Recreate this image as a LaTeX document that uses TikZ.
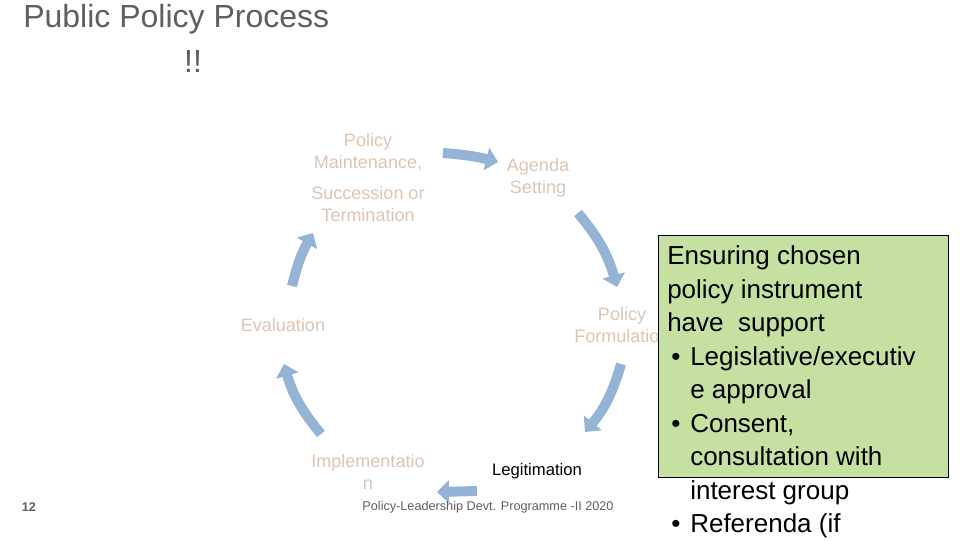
\documentclass[tikz,border=0pt]{standalone}
\usepackage{fontspec}
\setmainfont{Liberation Sans}
\usetikzlibrary{arrows.meta}
\definecolor{arr}{RGB}{148,179,213}
\definecolor{beige}{RGB}{222,196,178}
\definecolor{boxg}{RGB}{197,224,160}
\definecolor{titleg}{RGB}{95,95,95}
\begin{document}
\begin{tikzpicture}[x=0.75pt,y=-0.75pt,
  blk/.style={draw=arr,line width=7.5pt,-{Triangle[width=17pt,length=9pt]}},
  lab/.style={text=beige,font=\fontsize{13.5}{16}\selectfont,align=center,inner sep=0pt},
  bt/.style={font=\fontsize{19.5}{25}\selectfont,anchor=base west,inner sep=0pt}]
\useasboundingbox (0,0) rectangle (960,540);
\node[anchor=base west,text=titleg,font=\fontsize{24}{28}\selectfont,inner sep=0pt] (t1) at (23,27) {Public Policy Process};
\node[anchor=base,text=titleg,font=\fontsize{24}{28}\selectfont,inner sep=0pt] (t2) at (193,72) {!!};
% labels
\node[lab] (pm1) at (368,152) {Policy\\Maintenance,};
\node[lab] (pm2) at (368,204) {Succession or\\Termination};
\node[lab] (ag) at (538,178) {Agenda\\Setting};
\node[lab] (ev) at (283,325) {Evaluation};
\node[lab] (pf) at (622,325) {Policy\\Formulation};
\node[lab] (im) at (368,472) {Implementatio\\n};
\node[inner sep=0pt,font=\fontsize{12.5}{15}\selectfont] (lg) at (537,471) {Legitimation};
% arrows
\coordinate (a1s) at (443,153); \coordinate (a1e) at (498,162);
\coordinate (a2s) at (578,213); \coordinate (a2e) at (617,287);
\coordinate (a3s) at (621,364); \coordinate (a3e) at (585,432);
\coordinate (a4s) at (477,491); \coordinate (a4e) at (437,492);
\coordinate (a5s) at (321,434); \coordinate (a5e) at (284,364);
\coordinate (a6s) at (292,286); \coordinate (a6e) at (313,233);
\draw[blk] (a1s) to[bend left=5] (a1e);
\draw[blk] (a2s) to[bend left=12] (a2e);
\draw[blk] (a3s) to[bend left=12] (a3e);
\draw[blk] (a4s) -- (a4e);
\draw[blk] (a5s) to[bend left=12] (a5e);
\draw[blk] (a6s) to[bend left=8] (a6e);
% green box
\draw[fill=boxg,draw=black] (658,235) rectangle (948,477);
\node[bt] (b1) at (667,264) {Ensuring chosen};
\node[bt] (b2) at (667,298) {policy instrument};
\node[bt] (b3) at (667,331) {have\ \ support};
\node[bt] (b4) at (671,365) {•};
\node[bt] (b4t) at (690,365) {Legislative/executiv};
\node[bt] (b5) at (690,398) {e approval};
\node[bt] (b6) at (671,432) {•};
\node[bt] (b6t) at (690,432) {Consent,};
\node[bt] (b7) at (690,465) {consultation with};
\node[bt] (b8) at (690,499) {interest group};
\node[bt] (b9) at (671,532) {•};
\node[bt] (b9t) at (690,532) {Referenda (if};
% footer
\node[font=\bfseries\fontsize{9.5}{11}\selectfont,text=titleg,inner sep=0pt] (pg) at (29,507) {12};
\node[font=\fontsize{9.5}{11}\selectfont,text=titleg,inner sep=0pt] (ft) at (488,507) {Policy-Leadership Devt. Programme -II 2020};
\end{tikzpicture}
\end{document}
